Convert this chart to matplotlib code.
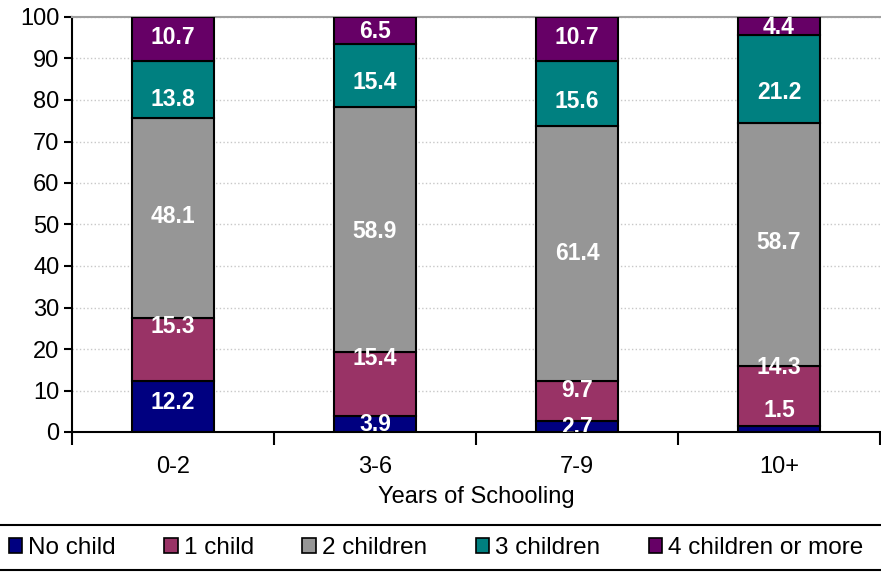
import matplotlib.pyplot as plt
from matplotlib.patches import Patch
from matplotlib.lines import Line2D
import numpy as np

plt.rcParams['font.family'] = ['Liberation Sans', 'DejaVu Sans']

# data
categories = ["0-2", "3-6", "7-9", "10+"]
series_names = ["No child", "1 child", "2 children", "3 children", "4 children or more"]
no_child = [12.2, 3.9, 2.7, 1.5]
one_child = [15.3, 15.4, 9.7, 14.3]
two_children = [48.1, 58.9, 61.4, 58.7]
three_children = [13.8, 15.4, 15.6, 21.2]
four_plus = [10.7, 6.5, 10.7, 4.4]
colors = ["#000080", "#993366", "#969696", "#008080", "#660066"]

# label shifts (data units) so labels sit where the original put them
label_shift = [
    [0.9, -0.2, -0.3, 4.5],
    [5.5, 6.0, 2.5, 6.8],
    [0.3, -0.4, -0.2, 0.4],
    [-2.5, -1.7, -2.0, -3.3],
    [0.2, -0.3, 0.3, -0.5],
]

fig = plt.figure(figsize=(8.81, 5.72), dpi=100)
ax = fig.add_axes([72 / 881, 1 - 432 / 572, 808 / 881, 415 / 572])

x = np.arange(len(categories))
bottom = np.zeros(len(categories))
all_series = [no_child, one_child, two_children, three_children, four_plus]
for i, vals in enumerate(all_series):
    vals = np.array(vals)
    ax.bar(x, vals, bottom=bottom, width=0.406, color=colors[i],
           edgecolor="black", linewidth=1.5, zorder=3)
    for j in range(len(categories)):
        ax.text(x[j], bottom[j] + vals[j] / 2 + label_shift[i][j], f"{vals[j]:.1f}",
                ha="center", va="center", color="white", fontsize=16.5,
                fontweight="bold", zorder=4, clip_on=True)
    bottom = bottom + vals

ax.set_xlim(-0.5, 3.5)
ax.set_ylim(0, 100)
ax.set_yticks(range(0, 101, 10))
ax.tick_params(axis="y", labelsize=17, length=6, width=1.5, direction="out", pad=3)
ax.set_xticks([-0.5, 0.5, 1.5, 2.5, 3.5])
ax.set_xticklabels([])
ax.set_xticks(x, minor=True)
ax.set_xticklabels(categories, minor=True)
ax.tick_params(axis="x", which="major", length=9, width=1.5, direction="out")
ax.tick_params(axis="x", which="minor", length=0, labelsize=17, pad=17)
ax.set_xlabel("Years of Schooling", fontsize=17, labelpad=6)

ax.grid(axis="y", color="#c8c8c8", linestyle=":", linewidth=1, zorder=0)
ax.spines["right"].set_visible(False)
ax.spines["top"].set_color("#a0a0a0")
ax.spines["top"].set_linewidth(1.5)
ax.spines["left"].set_linewidth(1.5)
ax.spines["bottom"].set_linewidth(1.5)

handles = [Patch(facecolor=c, edgecolor="black", linewidth=1.2) for c in colors]
fig.legend(handles, series_names, loc="center", bbox_to_anchor=(0.495, 1 - 548 / 572),
           ncol=5, frameon=False, fontsize=17.5, handlelength=0.55, handleheight=0.55,
           handletextpad=0.25, columnspacing=2.0, borderpad=0, borderaxespad=0)
fig.add_artist(Line2D([0, 1], [1 - 525 / 572] * 2, color="black", linewidth=1.5))
fig.add_artist(Line2D([0, 1], [1 - 570 / 572] * 2, color="black", linewidth=1.5))

fig.savefig("out.png", dpi=100)
